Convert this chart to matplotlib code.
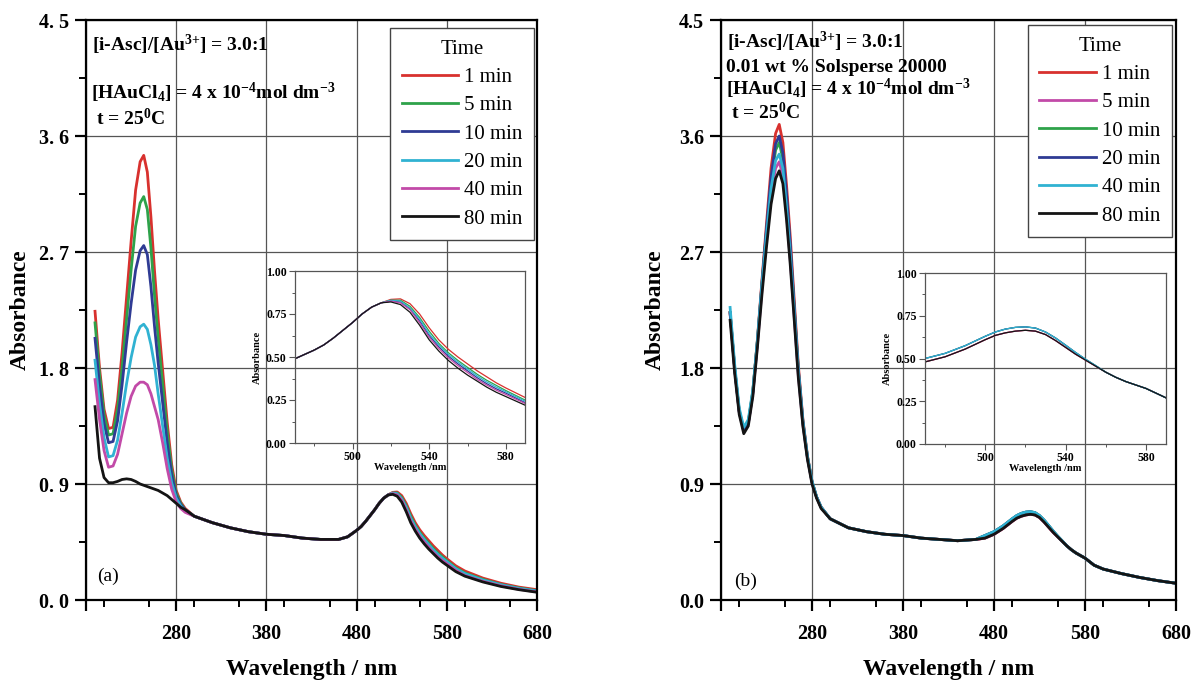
import matplotlib
matplotlib.use("Agg")
import matplotlib.pyplot as plt
from matplotlib.ticker import MultipleLocator, FixedLocator, FormatStrFormatter

plt.rcParams['font.family'] = ['Liberation Serif', 'DejaVu Serif']
plt.rcParams['mathtext.fontset'] = 'custom'
plt.rcParams['mathtext.rm'] = 'Liberation Serif:bold'
plt.rcParams['mathtext.it'] = 'Liberation Serif:bold'
plt.rcParams['mathtext.bf'] = 'Liberation Serif:bold'

# ---------------- data ----------------
labels = ['1 min', '5 min', '10 min', '20 min', '40 min', '80 min']

# UV region, per series
wl_uv = [190, 195, 200, 205, 210, 215, 220, 225, 230, 235, 240, 244, 248,
         252, 256, 260, 265, 270, 275, 280, 285, 290]

a_uv = {
    '1 min':  [2.24, 1.80, 1.48, 1.33, 1.34, 1.55, 1.92, 2.35, 2.78, 3.18, 3.40, 3.45, 3.32,
               2.97, 2.55, 2.18, 1.78, 1.38, 1.05, 0.85, 0.76, 0.71],
    '5 min':  [2.15, 1.75, 1.44, 1.28, 1.29, 1.48, 1.80, 2.18, 2.56, 2.90, 3.08, 3.13, 3.03,
               2.73, 2.36, 2.03, 1.67, 1.31, 1.01, 0.83, 0.75, 0.70],
    '10 min': [2.03, 1.66, 1.37, 1.22, 1.23, 1.39, 1.67, 2.00, 2.30, 2.56, 2.71, 2.75, 2.68,
               2.43, 2.12, 1.84, 1.53, 1.22, 0.97, 0.81, 0.74, 0.70],
    '20 min': [1.86, 1.52, 1.26, 1.11, 1.12, 1.24, 1.45, 1.68, 1.88, 2.04, 2.12, 2.14, 2.10,
               1.98, 1.82, 1.60, 1.35, 1.10, 0.91, 0.79, 0.73, 0.69],
    '40 min': [1.71, 1.40, 1.16, 1.03, 1.04, 1.13, 1.29, 1.45, 1.58, 1.66, 1.69, 1.69, 1.67,
               1.60, 1.50, 1.40, 1.22, 1.02, 0.86, 0.76, 0.71, 0.68],
    '80 min': [1.50, 1.10, 0.95, 0.91, 0.91, 0.92, 0.935, 0.94, 0.935, 0.92, 0.90, 0.89, 0.88,
               0.87, 0.86, 0.85, 0.83, 0.81, 0.78, 0.75, 0.72, 0.70],
}

# middle region shared by all curves in (a)
wl_mid_a = [300, 320, 340, 360, 380, 400, 420, 440, 460, 470, 480, 485, 490, 495,
            500, 505, 510, 515]
a_mid = [0.65, 0.60, 0.56, 0.53, 0.51, 0.50, 0.48, 0.47, 0.47, 0.49, 0.54, 0.57, 0.61,
         0.655, 0.70, 0.75, 0.79, 0.815]

# plasmon band tail, per series
wl_vis_a = [520, 525, 530, 535, 540, 545, 550, 555, 560, 565, 570, 575, 580, 590,
            600, 620, 640, 660, 680]
a_vis = {
    '1 min':  [0.835, 0.838, 0.81, 0.75, 0.67, 0.60, 0.545, 0.50, 0.46, 0.42, 0.385, 0.35,
               0.32, 0.265, 0.225, 0.17, 0.13, 0.10, 0.08],
    '5 min':  [0.83, 0.83, 0.795, 0.73, 0.65, 0.58, 0.525, 0.48, 0.44, 0.40, 0.365, 0.335,
               0.305, 0.25, 0.21, 0.16, 0.12, 0.093, 0.072],
    '10 min': [0.825, 0.82, 0.78, 0.71, 0.625, 0.56, 0.505, 0.46, 0.42, 0.38, 0.345, 0.315,
               0.29, 0.235, 0.20, 0.15, 0.115, 0.087, 0.067],
    '20 min': [0.83, 0.825, 0.785, 0.72, 0.635, 0.57, 0.515, 0.47, 0.43, 0.39, 0.355, 0.325,
               0.298, 0.243, 0.205, 0.155, 0.118, 0.09, 0.07],
    '40 min': [0.825, 0.815, 0.775, 0.70, 0.615, 0.55, 0.495, 0.45, 0.41, 0.37, 0.337, 0.307,
               0.282, 0.23, 0.19, 0.145, 0.11, 0.083, 0.063],
    '80 min': [0.82, 0.805, 0.76, 0.685, 0.60, 0.535, 0.48, 0.435, 0.395, 0.36, 0.325, 0.295,
               0.27, 0.22, 0.185, 0.14, 0.105, 0.08, 0.06],
}

b_uv = {
    '1 min':  [2.23, 1.80, 1.47, 1.32, 1.38, 1.62, 2.02, 2.48, 2.92, 3.35, 3.62, 3.69, 3.55,
               3.22, 2.83, 2.38, 1.82, 1.40, 1.12, 0.92, 0.80, 0.72],
    '5 min':  [2.22, 1.79, 1.46, 1.31, 1.37, 1.60, 1.98, 2.41, 2.80, 3.14, 3.35, 3.40, 3.29,
               3.00, 2.65, 2.25, 1.74, 1.36, 1.10, 0.91, 0.80, 0.72],
    '10 min': [2.23, 1.80, 1.47, 1.32, 1.38, 1.62, 2.01, 2.45, 2.86, 3.24, 3.49, 3.55, 3.42,
               3.11, 2.74, 2.31, 1.78, 1.38, 1.11, 0.92, 0.80, 0.72],
    '20 min': [2.23, 1.80, 1.46, 1.31, 1.37, 1.61, 2.01, 2.46, 2.88, 3.28, 3.54, 3.60, 3.47,
               3.15, 2.77, 2.33, 1.79, 1.39, 1.11, 0.92, 0.80, 0.72],
    '40 min': [2.27, 1.83, 1.49, 1.34, 1.40, 1.63, 2.01, 2.44, 2.83, 3.19, 3.41, 3.46, 3.35,
               3.05, 2.69, 2.28, 1.77, 1.38, 1.11, 0.92, 0.80, 0.72],
    '80 min': [2.17, 1.76, 1.44, 1.29, 1.35, 1.58, 1.96, 2.37, 2.74, 3.07, 3.27, 3.33, 3.23,
               2.95, 2.61, 2.22, 1.72, 1.35, 1.09, 0.90, 0.79, 0.71],
}

wl_mid_b = [300, 320, 340, 360, 380, 400, 420, 440, 460]
b_mid = [0.63, 0.56, 0.53, 0.51, 0.50, 0.48, 0.47, 0.46, 0.47]

wl_vis_b = [470, 480, 490, 500, 505, 510, 515, 520, 525, 530, 535, 540, 545, 550, 555]
b_vis_low = [0.48, 0.51, 0.555, 0.61, 0.635, 0.65, 0.66, 0.665, 0.66, 0.64, 0.605, 0.565,
             0.525, 0.49, 0.455]
b_vis_high = [0.50, 0.53, 0.575, 0.63, 0.655, 0.672, 0.682, 0.685, 0.678, 0.655, 0.62,
              0.578, 0.535, 0.495, 0.458]
b_vis = {'1 min': b_vis_low, '5 min': b_vis_low, '10 min': b_vis_high,
         '20 min': b_vis_high, '40 min': b_vis_high, '80 min': b_vis_low}

wl_tail_b = [560, 565, 570, 575, 580, 590, 600, 620, 640, 660, 680]
b_tail = [0.42, 0.39, 0.365, 0.345, 0.325, 0.27, 0.24, 0.205, 0.175, 0.15, 0.13]

colors_a = {'1 min': '#d8312e', '5 min': '#2ea24a', '10 min': '#2f3b94',
            '20 min': '#30b2d2', '40 min': '#c24aa8', '80 min': '#141414'}
colors_b = {'1 min': '#d8312e', '5 min': '#c24aa8', '10 min': '#2ea24a',
            '20 min': '#2f3b94', '40 min': '#30b2d2', '80 min': '#141414'}


def spectrum_a(k):
    return wl_uv + wl_mid_a + wl_vis_a, a_uv[k] + a_mid + a_vis[k]


def spectrum_b(k):
    return wl_uv + wl_mid_b + wl_vis_b + wl_tail_b, b_uv[k] + b_mid + b_vis[k] + b_tail


W, H = 1197, 682
fig = plt.figure(figsize=(W / 100, H / 100), dpi=100)


def px(l, t, r, b):
    return [l / W, 1 - b / H, (r - l) / W, (b - t) / H]


def style_main(ax, dotted_labels, ylabelpad):
    ax.set_xlim(180, 680)
    ax.set_ylim(0, 4.5)
    ax.xaxis.set_major_locator(FixedLocator([180, 280, 380, 480, 580, 680]))
    ax.set_xticklabels(['', '280', '380', '480', '580', '680'])
    ax.xaxis.set_minor_locator(MultipleLocator(50))
    yt = [0, 0.9, 1.8, 2.7, 3.6, 4.5]
    ax.yaxis.set_major_locator(FixedLocator(yt))
    if dotted_labels:
        ax.set_yticklabels([f'{v:.1f}'.replace('.', '. ') for v in yt])
    else:
        ax.set_yticklabels([f'{v:.1f}' for v in yt])
    ax.yaxis.set_minor_locator(MultipleLocator(0.45))
    ax.tick_params(which='major', direction='out', length=8, width=1.6, labelsize=14.5, pad=4)
    ax.tick_params(axis='x', which='major', pad=9)
    ax.tick_params(which='minor', direction='out', length=5, width=1.4)
    for lab in ax.get_xticklabels() + ax.get_yticklabels():
        lab.set_fontweight('bold')
    for s in ax.spines.values():
        s.set_linewidth(1.6)
    ax.grid(True, which='major', color='#555555', lw=0.9)
    ax.set_axisbelow(True)
    ax.set_xlabel('Wavelength / nm', fontsize=17, fontweight='bold', labelpad=11)
    ax.set_ylabel('Absorbance', fontsize=17, fontweight='bold', labelpad=ylabelpad)


def style_inset(ax):
    ax.set_facecolor('none')
    ax.set_xlim(470, 590)
    ax.set_ylim(0, 1)
    ax.xaxis.set_major_locator(FixedLocator([500, 540, 580]))
    ax.xaxis.set_minor_locator(MultipleLocator(20))
    ax.yaxis.set_major_locator(MultipleLocator(0.25))
    ax.yaxis.set_minor_locator(MultipleLocator(0.125))
    ax.yaxis.set_major_formatter(FormatStrFormatter('%.2f'))
    ax.tick_params(which='major', direction='out', length=4, width=0.8, labelsize=8.5, pad=2,
                   color='#555555')
    ax.tick_params(which='minor', direction='out', length=2.5, width=0.7, color='#555555')
    for lab in ax.get_xticklabels() + ax.get_yticklabels():
        lab.set_fontweight('bold')
    for s in ax.spines.values():
        s.set_linewidth(0.9)
        s.set_color('#555555')
    ax.set_xlabel('Wavelength /nm', fontsize=7.5, fontweight='bold', labelpad=0)
    ax.set_ylabel('Absorbance', fontsize=7.5, fontweight='bold', labelpad=3)


def add_legend(ax, anchor):
    leg = ax.legend(title='Time', loc='upper right', bbox_to_anchor=anchor,
                    borderaxespad=0, fontsize=15, title_fontsize=15, frameon=True,
                    fancybox=False, edgecolor='#444444', framealpha=1, handlelength=2.7,
                    handletextpad=0.3, labelspacing=0.42, borderpad=0.55)
    leg.get_frame().set_linewidth(1.0)
    return leg


# ---------------- panel (a) ----------------
ax1 = fig.add_axes(px(86, 20, 537, 600))
for k in labels:
    x, y = spectrum_a(k)
    ax1.plot(x, y, color=colors_a[k], lw=2.0, label=k)
style_main(ax1, True, 6)
add_legend(ax1, (0.9934, 0.986))
ax1.text(0.013, 0.957, '[i-Asc]/[Au$^{3{+}}$] = 3.0:1', transform=ax1.transAxes,
         fontsize=14, fontweight='bold', va='center')
ax1.text(0.010, 0.875, '[HAuCl$_4$] = 4 x 10$^{-4}$mol dm$^{-3}$', transform=ax1.transAxes,
         fontsize=14, fontweight='bold', va='center')
ax1.text(0.022, 0.83, 't = 25$^0$C', transform=ax1.transAxes,
         fontsize=14, fontweight='bold', va='center')
ax1.text(0.025, 0.04, '(a)', transform=ax1.transAxes, fontsize=14, va='center')

in1 = fig.add_axes(px(295, 271, 525, 443))
for k in labels:
    x, y = spectrum_a(k)
    in1.plot(x, y, color=colors_a[k], lw=0.9)
style_inset(in1)

# ---------------- panel (b) ----------------
ax2 = fig.add_axes(px(721, 20, 1176, 600))
for k in labels:
    x, y = spectrum_b(k)
    ax2.plot(x, y, color=colors_b[k], lw=2.0, label=k)
style_main(ax2, False, 10)
add_legend(ax2, (0.991, 0.991))
ax2.text(0.013, 0.962, '[i-Asc]/[Au$^{3{+}}$] = 3.0:1', transform=ax2.transAxes,
         fontsize=14, fontweight='bold', va='center')
ax2.text(0.010, 0.918, '0.01 wt % Solsperse 20000', transform=ax2.transAxes,
         fontsize=14, fontweight='bold', va='center')
ax2.text(0.010, 0.882, '[HAuCl$_4$] = 4 x 10$^{-4}$mol dm$^{-3}$', transform=ax2.transAxes,
         fontsize=14, fontweight='bold', va='center')
ax2.text(0.022, 0.84, 't = 25$^0$C', transform=ax2.transAxes,
         fontsize=14, fontweight='bold', va='center')
ax2.text(0.028, 0.032, '(b)', transform=ax2.transAxes, fontsize=14, va='center')

in2 = fig.add_axes(px(925, 273, 1166, 444))
for k in labels:
    x, y = spectrum_b(k)
    in2.plot(x, y, color=colors_b[k], lw=0.9)
style_inset(in2)

fig.savefig('out.png', dpi=100)
